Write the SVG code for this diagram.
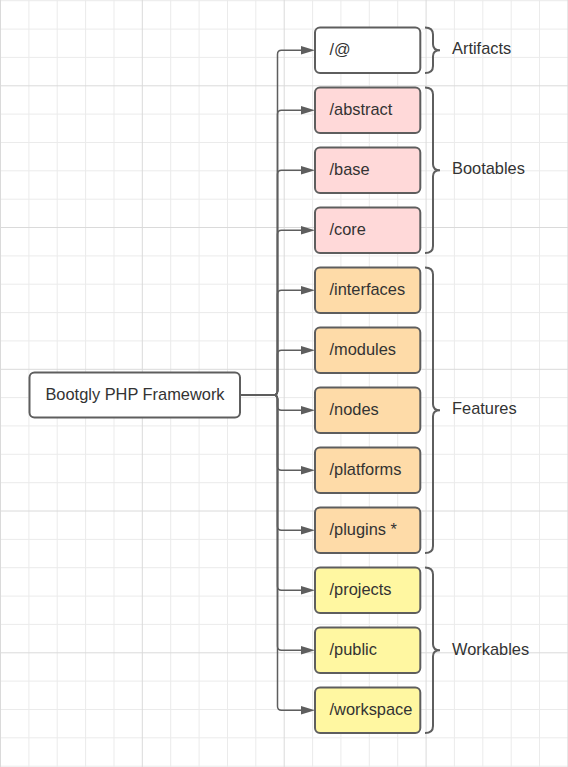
<svg xmlns="http://www.w3.org/2000/svg" width="568" height="767" viewBox="0 0 568 767">
<style>
.minor{stroke:#ebebeb;stroke-width:1;fill:none}
.major{stroke:#dadada;stroke-width:1;fill:none}
.box{stroke:#5e5e5e;stroke-width:2}
.t{font-family:"Liberation Sans",Arial,sans-serif;font-size:16.4px;fill:#333333}
.conn{stroke:#5e5e5e;stroke-width:1.5;fill:none}
.brace{stroke:#5e5e5e;stroke-width:2;fill:none}
.white{fill:#ffffff}
.pink{fill:#ffd9d9}
.orange{fill:#fedba8}
.yellow{fill:#fff7a1}
</style>
<defs>
<marker id="arr" markerUnits="userSpaceOnUse" viewBox="0 0 14 10" refX="2" refY="5" markerWidth="14" markerHeight="10" orient="auto">
<path d="M0,0.8 L14,5 L0,9.2 Z" fill="#5e5e5e"/>
</marker>
</defs>
<rect width="568" height="767" fill="#ffffff"/>
<g id="grid">
<path class="minor" d="M28.9,0V767M57.2,0V767M85.6,0V767M114,0V767M170.7,0V767M199.1,0V767M227.5,0V767M255.8,0V767M312.6,0V767M340.9,0V767M369.3,0V767M397.7,0V767M454.4,0V767M482.8,0V767M511.2,0V767M539.5,0V767
M0,0.7H568M0,29.1H568M0,57.4H568M0,114.1H568M0,142.5H568M0,170.8H568M0,199.2H568M0,255.9H568M0,284.2H568M0,312.6H568M0,340.9H568M0,397.6H568M0,425.9H568M0,454.3H568M0,482.7H568M0,539.4H568M0,567.7H568M0,596.1H568M0,624.4H568M0,681.1H568M0,709.5H568M0,737.8H568M0,766.2H568"/>
<path class="major" d="M0.5,0V767M142.3,0V767M284.2,0V767M426.1,0V767M567.9,0V767M0,85.8H568M0,227.5H568M0,369.3H568M0,511H568M0,652.8H568"/>
</g>
<g id="connectors">
<path class="conn" marker-end="url(#arr)" d="M240,395H273.5Q277.5,395 277.5,391V54.3Q277.5,50.3 281.5,50.3H303"/>
<path class="conn" marker-end="url(#arr)" d="M240,395H273.5Q277.5,395 277.5,391V114.3Q277.5,110.3 281.5,110.3H303"/>
<path class="conn" marker-end="url(#arr)" d="M240,395H273.5Q277.5,395 277.5,391V174.3Q277.5,170.3 281.5,170.3H303"/>
<path class="conn" marker-end="url(#arr)" d="M240,395H273.5Q277.5,395 277.5,391V234.3Q277.5,230.3 281.5,230.3H303"/>
<path class="conn" marker-end="url(#arr)" d="M240,395H273.5Q277.5,395 277.5,391V294.3Q277.5,290.3 281.5,290.3H303"/>
<path class="conn" marker-end="url(#arr)" d="M240,395H273.5Q277.5,395 277.5,391V354.3Q277.5,350.3 281.5,350.3H303"/>
<path class="conn" marker-end="url(#arr)" d="M240,395H273.5Q277.5,395 277.5,399V406.3Q277.5,410.3 281.5,410.3H303"/>
<path class="conn" marker-end="url(#arr)" d="M240,395H273.5Q277.5,395 277.5,399V466.3Q277.5,470.3 281.5,470.3H303"/>
<path class="conn" marker-end="url(#arr)" d="M240,395H273.5Q277.5,395 277.5,399V526.3Q277.5,530.3 281.5,530.3H303"/>
<path class="conn" marker-end="url(#arr)" d="M240,395H273.5Q277.5,395 277.5,399V586.3Q277.5,590.3 281.5,590.3H303"/>
<path class="conn" marker-end="url(#arr)" d="M240,395H273.5Q277.5,395 277.5,399V646.3Q277.5,650.3 281.5,650.3H303"/>
<path class="conn" marker-end="url(#arr)" d="M240,395H273.5Q277.5,395 277.5,399V706.3Q277.5,710.3 281.5,710.3H303"/>
</g>
<g id="root">
<rect class="box white" x="29.5" y="372.5" width="210.5" height="45" rx="5"/>
<text class="t" x="135" y="399.8" text-anchor="middle">Bootgly PHP Framework</text>
</g>
<g id="n-at"><rect class="box white" x="315" y="27.5" width="105.3" height="45.5" rx="5"/><text class="t" x="329.5" y="54.5">/@</text></g>
<g id="n-abstract"><rect class="box pink" x="315" y="87.5" width="105.3" height="45.5" rx="5"/><text class="t" x="329.5" y="114.5">/abstract</text></g>
<g id="n-base"><rect class="box pink" x="315" y="147.5" width="105.3" height="45.5" rx="5"/><text class="t" x="329.5" y="174.5">/base</text></g>
<g id="n-core"><rect class="box pink" x="315" y="207.5" width="105.3" height="45.5" rx="5"/><text class="t" x="329.5" y="234.5">/core</text></g>
<g id="n-interfaces"><rect class="box orange" x="315" y="267.5" width="105.3" height="45.5" rx="5"/><text class="t" x="329.5" y="294.5">/interfaces</text></g>
<g id="n-modules"><rect class="box orange" x="315" y="327.5" width="105.3" height="45.5" rx="5"/><text class="t" x="329.5" y="354.5">/modules</text></g>
<g id="n-nodes"><rect class="box orange" x="315" y="387.5" width="105.3" height="45.5" rx="5"/><text class="t" x="329.5" y="414.5">/nodes</text></g>
<g id="n-platforms"><rect class="box orange" x="315" y="447.5" width="105.3" height="45.5" rx="5"/><text class="t" x="329.5" y="474.5">/platforms</text></g>
<g id="n-plugins"><rect class="box orange" x="315" y="507.5" width="105.3" height="45.5" rx="5"/><text class="t" x="329.5" y="534.5">/plugins *</text></g>
<g id="n-projects"><rect class="box yellow" x="315" y="567.5" width="105.3" height="45.5" rx="5"/><text class="t" x="329.5" y="594.5">/projects</text></g>
<g id="n-public"><rect class="box yellow" x="315" y="627.5" width="105.3" height="45.5" rx="5"/><text class="t" x="329.5" y="654.5">/public</text></g>
<g id="n-workspace"><rect class="box yellow" x="315" y="687.5" width="105.3" height="45.5" rx="5"/><text class="t" x="329.5" y="714.5">/workspace</text></g>
<g id="g-artifacts">
<path class="brace" d="M425,27.5Q433,27.5 433,34.5V44.3Q433,50.3 440,50.3Q433,50.3 433,56.3V66Q433,73 425,73"/>
<text class="t" x="452" y="54.3">Artifacts</text>
</g>
<g id="g-bootables">
<path class="brace" d="M425,87.5Q433,87.5 433,94.5V164.3Q433,170.3 440,170.3Q433,170.3 433,176.3V246Q433,253 425,253"/>
<text class="t" x="452" y="174.3">Bootables</text>
</g>
<g id="g-features">
<path class="brace" d="M425,267.5Q433,267.5 433,274.5V404.3Q433,410.3 440,410.3Q433,410.3 433,416.3V546Q433,553 425,553"/>
<text class="t" x="452" y="414.3">Features</text>
</g>
<g id="g-workables">
<path class="brace" d="M425,567.5Q433,567.5 433,574.5V644.3Q433,650.3 440,650.3Q433,650.3 433,656.3V726Q433,733 425,733"/>
<text class="t" x="452" y="654.8">Workables</text>
</g>
</svg>
